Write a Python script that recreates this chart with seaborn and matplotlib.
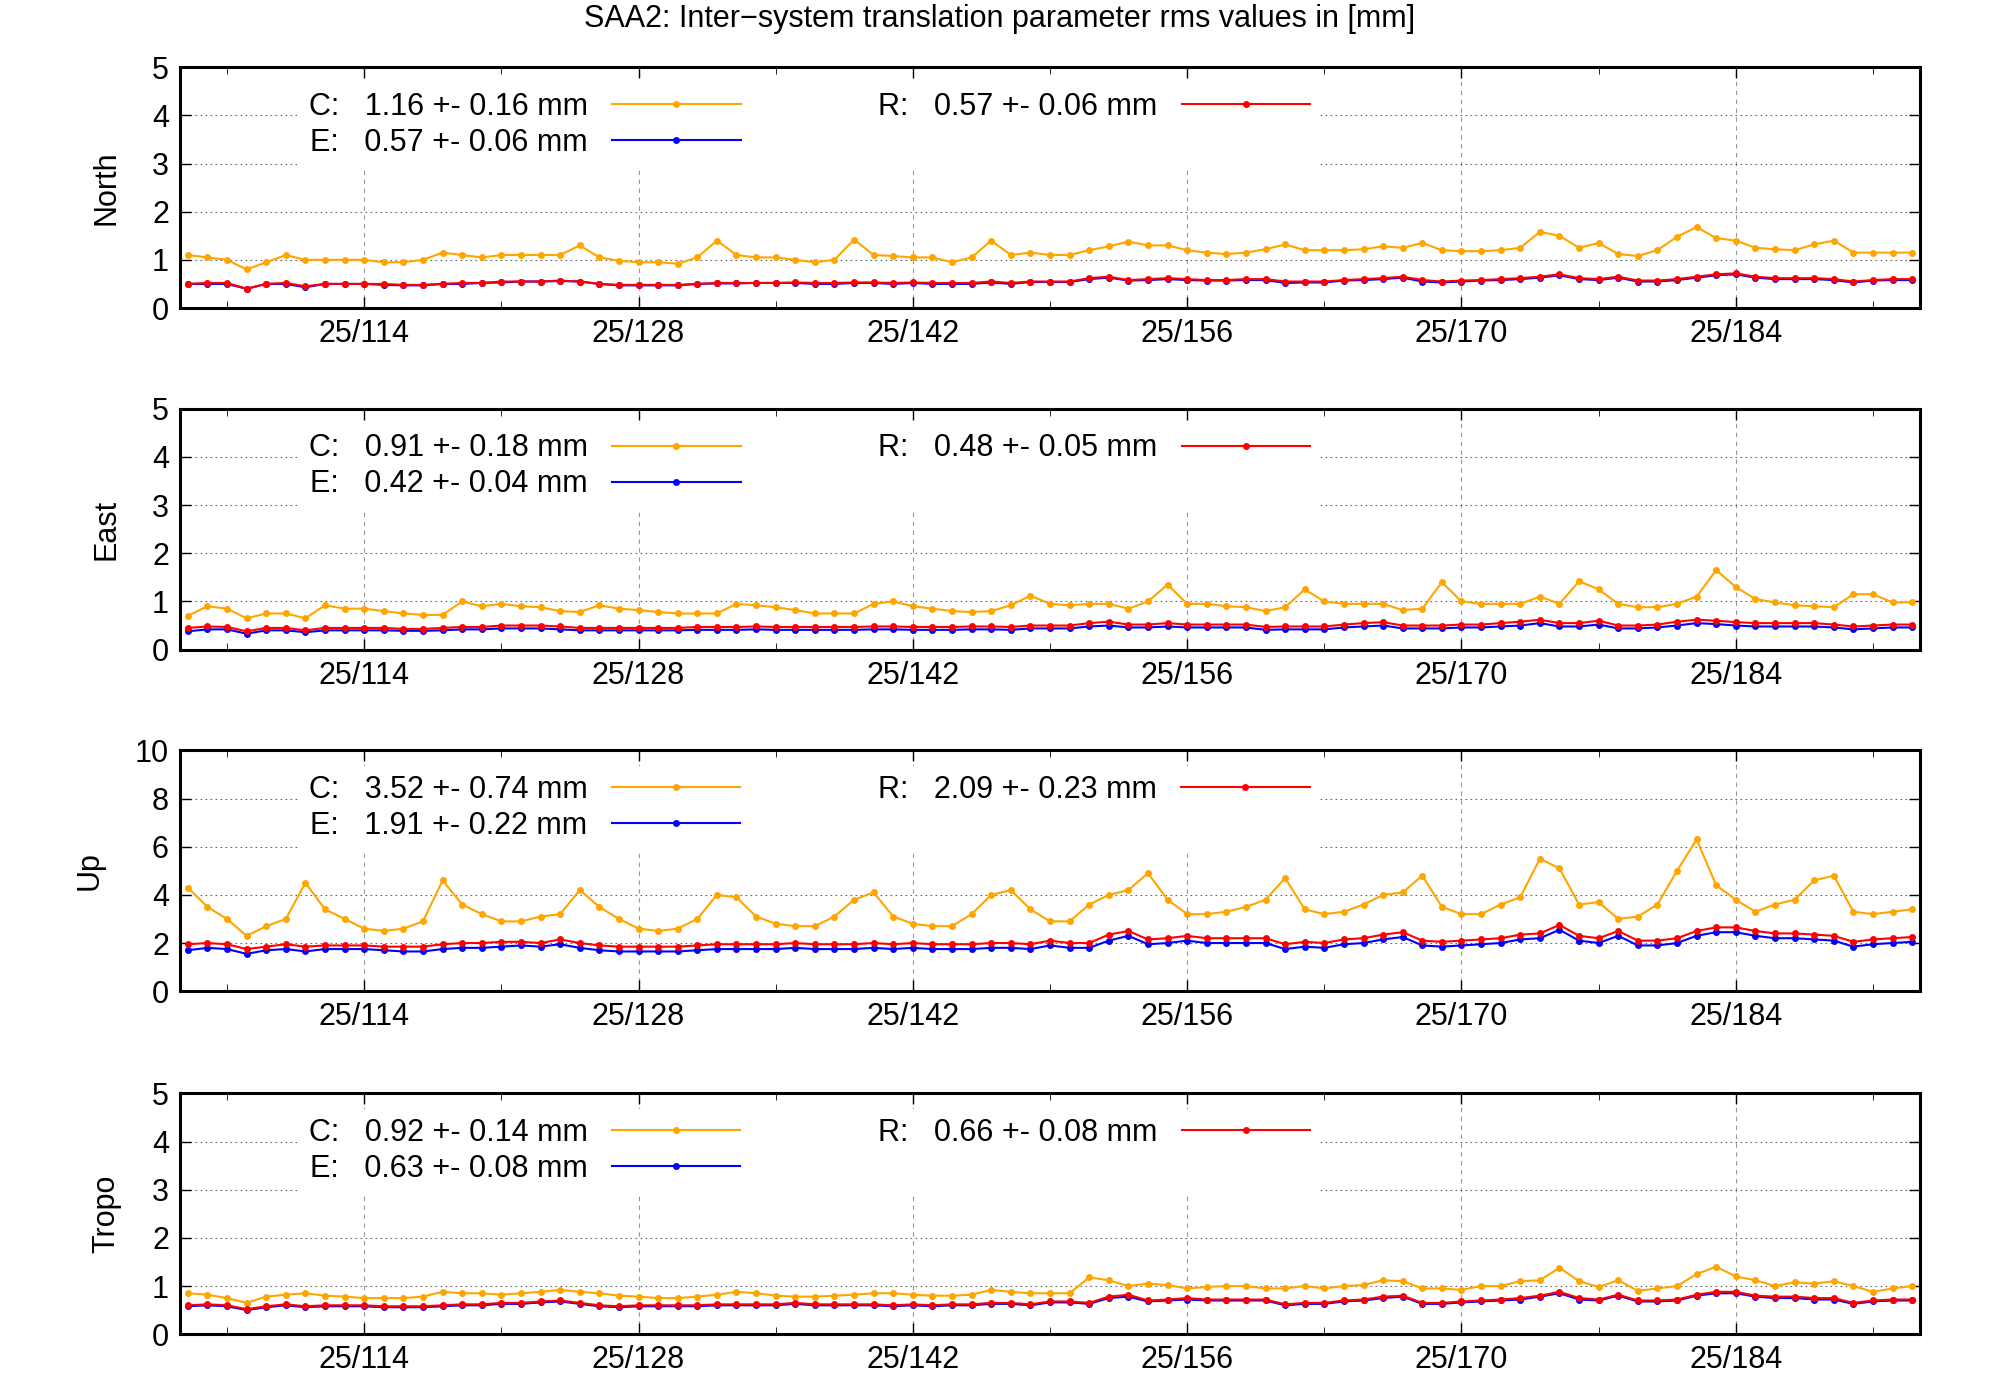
import numpy as np
import pandas as pd
import matplotlib
matplotlib.use("Agg")
import matplotlib.pyplot as plt
import seaborn as sns
from matplotlib.ticker import MultipleLocator

plt.rcParams["font.family"] = "Liberation Sans"

# ---------------------------
# Data
# ---------------------------
north_c = [1.1, 1.05, 1.0, 0.8, 0.95, 1.1, 1.0, 1.0, 1.0, 1.0, 0.95, 0.95, 1.0, 1.15, 1.1, 1.05, 1.1, 1.1,
           1.1, 1.1, 1.3, 1.05, 0.98, 0.95, 0.95, 0.92, 1.05, 1.4, 1.1, 1.05, 1.05, 1.0, 0.95, 1.0, 1.42,
           1.1, 1.08, 1.05, 1.05, 0.95, 1.05, 1.4, 1.1, 1.15, 1.1, 1.1, 1.2, 1.28, 1.38, 1.3, 1.3, 1.2,
           1.15, 1.12, 1.15, 1.22, 1.32, 1.2, 1.2, 1.2, 1.22, 1.28, 1.25, 1.35, 1.2, 1.18, 1.18, 1.2, 1.25,
           1.58, 1.5, 1.25, 1.35, 1.12, 1.08, 1.2, 1.48, 1.68, 1.45, 1.4, 1.25, 1.22, 1.2, 1.32, 1.4, 1.15,
           1.15, 1.15, 1.15]
north_r = [0.5, 0.52, 0.52, 0.4, 0.5, 0.52, 0.45, 0.5, 0.5, 0.5, 0.5, 0.48, 0.48, 0.5, 0.52, 0.52, 0.55, 0.55,
           0.55, 0.57, 0.55, 0.5, 0.48, 0.48, 0.48, 0.48, 0.5, 0.52, 0.52, 0.52, 0.52, 0.53, 0.52, 0.52, 0.53,
           0.53, 0.52, 0.53, 0.52, 0.52, 0.52, 0.55, 0.52, 0.55, 0.55, 0.55, 0.62, 0.65, 0.58, 0.6, 0.62, 0.6,
           0.58, 0.58, 0.6, 0.6, 0.55, 0.55, 0.55, 0.58, 0.6, 0.62, 0.65, 0.58, 0.55, 0.57, 0.58, 0.6, 0.62,
           0.65, 0.7, 0.62, 0.6, 0.65, 0.57, 0.57, 0.6, 0.65, 0.7, 0.72, 0.65, 0.62, 0.62, 0.62, 0.6, 0.55,
           0.58, 0.6, 0.6]
north_e = [0.5, 0.5, 0.5, 0.4, 0.5, 0.5, 0.43, 0.5, 0.5, 0.5, 0.48, 0.47, 0.47, 0.5, 0.5, 0.52, 0.53, 0.55,
           0.55, 0.56, 0.55, 0.5, 0.47, 0.47, 0.47, 0.47, 0.5, 0.51, 0.51, 0.52, 0.52, 0.52, 0.5, 0.5, 0.52,
           0.52, 0.5, 0.52, 0.5, 0.5, 0.5, 0.53, 0.5, 0.54, 0.54, 0.54, 0.6, 0.63, 0.57, 0.58, 0.6, 0.58,
           0.57, 0.57, 0.58, 0.58, 0.52, 0.53, 0.53, 0.57, 0.58, 0.6, 0.63, 0.55, 0.53, 0.55, 0.57, 0.58, 0.6,
           0.63, 0.68, 0.6, 0.58, 0.63, 0.55, 0.55, 0.58, 0.63, 0.68, 0.7, 0.63, 0.6, 0.6, 0.6, 0.58, 0.53,
           0.57, 0.58, 0.58]

east_c = [0.7, 0.9, 0.85, 0.65, 0.75, 0.75, 0.65, 0.92, 0.85, 0.85, 0.8, 0.75, 0.72, 0.72, 1.0, 0.9, 0.95, 0.9,
          0.88, 0.8, 0.78, 0.92, 0.85, 0.82, 0.78, 0.75, 0.75, 0.75, 0.95, 0.92, 0.88, 0.82, 0.75, 0.75, 0.75,
          0.95, 1.0, 0.9, 0.85, 0.8, 0.78, 0.8, 0.92, 1.12, 0.95, 0.92, 0.95, 0.95, 0.85, 1.0, 1.35, 0.95, 0.95,
          0.9, 0.88, 0.8, 0.88, 1.25, 1.0, 0.95, 0.95, 0.95, 0.82, 0.85, 1.4, 1.0, 0.95, 0.95, 0.95, 1.1, 0.95,
          1.42, 1.25, 0.95, 0.88, 0.88, 0.95, 1.1, 1.65, 1.3, 1.05, 0.98, 0.92, 0.9, 0.88, 1.15, 1.15, 0.98,
          0.98]
east_r = [0.45, 0.48, 0.47, 0.38, 0.45, 0.45, 0.4, 0.45, 0.45, 0.45, 0.45, 0.43, 0.43, 0.45, 0.47, 0.47, 0.5, 0.5,
          0.5, 0.48, 0.45, 0.45, 0.45, 0.45, 0.45, 0.45, 0.47, 0.47, 0.47, 0.48, 0.47, 0.47, 0.47, 0.47, 0.47,
          0.48, 0.48, 0.47, 0.47, 0.47, 0.48, 0.48, 0.47, 0.5, 0.5, 0.5, 0.55, 0.58, 0.52, 0.52, 0.55, 0.52,
          0.52, 0.52, 0.52, 0.47, 0.48, 0.48, 0.48, 0.52, 0.55, 0.57, 0.5, 0.5, 0.5, 0.52, 0.52, 0.55, 0.58,
          0.62, 0.55, 0.55, 0.6, 0.5, 0.5, 0.52, 0.58, 0.62, 0.6, 0.57, 0.55, 0.55, 0.55, 0.55, 0.52, 0.48,
          0.5, 0.52, 0.52]
east_e = [0.38, 0.42, 0.42, 0.33, 0.4, 0.4, 0.36, 0.4, 0.4, 0.4, 0.4, 0.39, 0.39, 0.4, 0.42, 0.42, 0.44, 0.44,
          0.44, 0.42, 0.4, 0.4, 0.4, 0.4, 0.4, 0.4, 0.41, 0.41, 0.41, 0.42, 0.41, 0.41, 0.41, 0.41, 0.41, 0.42,
          0.42, 0.41, 0.41, 0.41, 0.42, 0.42, 0.41, 0.44, 0.44, 0.44, 0.48, 0.5, 0.46, 0.46, 0.48, 0.46, 0.46,
          0.46, 0.46, 0.41, 0.42, 0.42, 0.42, 0.46, 0.48, 0.5, 0.44, 0.44, 0.44, 0.46, 0.46, 0.48, 0.5, 0.55,
          0.48, 0.48, 0.52, 0.44, 0.44, 0.46, 0.5, 0.55, 0.53, 0.5, 0.48, 0.48, 0.48, 0.48, 0.46, 0.42, 0.44,
          0.46, 0.46]

up_c = [4.3, 3.5, 3.0, 2.3, 2.7, 3.0, 4.5, 3.4, 3.0, 2.6, 2.5, 2.6, 2.9, 4.6, 3.6, 3.2, 2.9, 2.9, 3.1, 3.2,
        4.2, 3.5, 3.0, 2.6, 2.5, 2.6, 3.0, 4.0, 3.9, 3.1, 2.8, 2.7, 2.7, 3.1, 3.8, 4.1, 3.1, 2.8, 2.7, 2.7,
        3.2, 4.0, 4.2, 3.4, 2.9, 2.9, 3.6, 4.0, 4.2, 4.9, 3.8, 3.2, 3.2, 3.3, 3.5, 3.8, 4.7, 3.4, 3.2, 3.3,
        3.6, 4.0, 4.1, 4.8, 3.5, 3.2, 3.2, 3.6, 3.9, 5.5, 5.1, 3.6, 3.7, 3.0, 3.1, 3.6, 5.0, 6.3, 4.4, 3.8,
        3.3, 3.6, 3.8, 4.6, 4.8, 3.3, 3.2, 3.3, 3.4]
up_r = [1.95, 2.0, 1.95, 1.75, 1.85, 1.95, 1.85, 1.9, 1.9, 1.9, 1.85, 1.85, 1.85, 1.95, 2.0, 2.0, 2.05, 2.05,
        2.0, 2.15, 2.0, 1.9, 1.85, 1.85, 1.85, 1.85, 1.9, 1.95, 1.95, 1.95, 1.95, 2.0, 1.95, 1.95, 1.95, 2.0,
        1.95, 2.0, 1.95, 1.95, 1.95, 2.0, 2.0, 1.95, 2.1, 2.0, 2.0, 2.35, 2.5, 2.15, 2.2, 2.3, 2.2, 2.2, 2.2,
        2.2, 1.95, 2.05, 2.0, 2.15, 2.2, 2.35, 2.45, 2.1, 2.05, 2.1, 2.15, 2.2, 2.35, 2.4, 2.75, 2.3, 2.2,
        2.5, 2.1, 2.1, 2.2, 2.5, 2.65, 2.65, 2.5, 2.4, 2.4, 2.35, 2.3, 2.05, 2.15, 2.2, 2.25]
up_e = [1.7, 1.8, 1.75, 1.55, 1.7, 1.75, 1.65, 1.75, 1.75, 1.75, 1.7, 1.65, 1.65, 1.75, 1.8, 1.8, 1.85, 1.9,
        1.85, 1.95, 1.8, 1.7, 1.65, 1.65, 1.65, 1.65, 1.7, 1.75, 1.75, 1.75, 1.75, 1.8, 1.75, 1.75, 1.75, 1.8,
        1.75, 1.8, 1.75, 1.75, 1.75, 1.8, 1.8, 1.75, 1.9, 1.8, 1.8, 2.1, 2.3, 1.95, 2.0, 2.1, 2.0, 2.0, 2.0,
        2.0, 1.75, 1.85, 1.8, 1.95, 2.0, 2.15, 2.25, 1.9, 1.85, 1.9, 1.95, 2.0, 2.15, 2.2, 2.55, 2.1, 2.0,
        2.3, 1.9, 1.9, 2.0, 2.3, 2.45, 2.45, 2.3, 2.2, 2.2, 2.15, 2.1, 1.85, 1.95, 2.0, 2.05]

tropo_c = [0.85, 0.82, 0.75, 0.65, 0.78, 0.82, 0.85, 0.8, 0.78, 0.75, 0.75, 0.75, 0.78, 0.88, 0.85, 0.85, 0.82, 0.85,
           0.88, 0.92, 0.88, 0.85, 0.8, 0.78, 0.75, 0.75, 0.78, 0.82, 0.88, 0.85, 0.8, 0.78, 0.78, 0.8, 0.82,
           0.85, 0.85, 0.82, 0.8, 0.8, 0.82, 0.92, 0.88, 0.85, 0.85, 0.85, 1.18, 1.12, 1.0, 1.05, 1.02, 0.95,
           0.98, 1.0, 1.0, 0.95, 0.95, 1.0, 0.95, 1.0, 1.02, 1.12, 1.1, 0.95, 0.95, 0.92, 1.0, 1.0, 1.1, 1.12,
           1.38, 1.1, 0.98, 1.12, 0.9, 0.95, 1.0, 1.25, 1.4, 1.2, 1.12, 1.0, 1.08, 1.05, 1.1, 1.0, 0.88, 0.95,
           1.0]
tropo_r = [0.6, 0.62, 0.6, 0.52, 0.58, 0.62, 0.58, 0.6, 0.6, 0.6, 0.58, 0.58, 0.58, 0.6, 0.62, 0.62, 0.65, 0.65,
           0.68, 0.7, 0.65, 0.6, 0.58, 0.6, 0.6, 0.6, 0.6, 0.62, 0.62, 0.62, 0.62, 0.65, 0.62, 0.62, 0.62, 0.62,
           0.6, 0.62, 0.6, 0.62, 0.62, 0.65, 0.65, 0.62, 0.68, 0.68, 0.65, 0.78, 0.82, 0.7, 0.72, 0.75, 0.72,
           0.72, 0.72, 0.72, 0.62, 0.65, 0.65, 0.7, 0.72, 0.78, 0.8, 0.65, 0.65, 0.68, 0.7, 0.72, 0.75, 0.8,
           0.88, 0.75, 0.72, 0.82, 0.7, 0.7, 0.72, 0.82, 0.88, 0.88, 0.8, 0.78, 0.78, 0.75, 0.75, 0.65, 0.7,
           0.72, 0.72]
tropo_e = [0.58, 0.6, 0.58, 0.5, 0.56, 0.6, 0.56, 0.58, 0.58, 0.58, 0.56, 0.56, 0.56, 0.58, 0.6, 0.6, 0.63, 0.63,
           0.66, 0.68, 0.63, 0.58, 0.56, 0.58, 0.58, 0.58, 0.58, 0.6, 0.6, 0.6, 0.6, 0.63, 0.6, 0.6, 0.6, 0.6,
           0.58, 0.6, 0.58, 0.6, 0.6, 0.63, 0.63, 0.6, 0.66, 0.66, 0.63, 0.75, 0.78, 0.68, 0.7, 0.72, 0.7, 0.7,
           0.7, 0.7, 0.6, 0.63, 0.63, 0.68, 0.7, 0.75, 0.78, 0.63, 0.63, 0.66, 0.68, 0.7, 0.72, 0.78, 0.85,
           0.72, 0.7, 0.8, 0.68, 0.68, 0.7, 0.8, 0.85, 0.85, 0.78, 0.75, 0.75, 0.72, 0.72, 0.63, 0.68, 0.7, 0.7]

panel_names = ["North", "East", "Up", "Tropo"]
panel_ymax = [5, 5, 10, 5]
panel_ystep = [1, 1, 2, 1]
legend_c = ["1.16 +- 0.16 mm", "0.91 +- 0.18 mm", "3.52 +- 0.74 mm", "0.92 +- 0.14 mm"]
legend_e = ["0.57 +- 0.06 mm", "0.42 +- 0.04 mm", "1.91 +- 0.22 mm", "0.63 +- 0.08 mm"]
legend_r = ["0.57 +- 0.06 mm", "0.48 +- 0.05 mm", "2.09 +- 0.23 mm", "0.66 +- 0.08 mm"]
series_c = [north_c, east_c, up_c, tropo_c]
series_e = [north_e, east_e, up_e, tropo_e]
series_r = [north_r, east_r, up_r, tropo_r]

major_days = [114, 128, 142, 156, 170, 184]
x_min, x_max = 104.6, 193.4

# ---------------------------
# Plot
# ---------------------------
fig = plt.figure(figsize=(20, 14), dpi=100)
bottoms = [0.780, 0.536, 0.292, 0.047]
height = 0.172

for i, name in enumerate(panel_names):
    ax = fig.add_axes([0.090, bottoms[i], 0.870, height])
    n = len(series_c[i])
    days = np.arange(105, 105 + n)
    df = pd.DataFrame({"day": days, "C": series_c[i], "E": series_e[i][:n], "R": series_r[i][:n]})

    sns.lineplot(data=df, x="day", y="C", ax=ax, color="#ffa500", marker="o", markersize=5,
                 markeredgewidth=0, lw=1.5, label=f"C:   {legend_c[i]}")
    sns.lineplot(data=df, x="day", y="E", ax=ax, color="#0000ff", marker="o", markersize=5,
                 markeredgewidth=0, lw=1.5, label=f"E:   {legend_e[i]}")
    sns.lineplot(data=df, x="day", y="R", ax=ax, color="#ff0000", marker="o", markersize=5,
                 markeredgewidth=0, lw=1.5, label=f"R:   {legend_r[i]}")

    ax.set_xlim(x_min, x_max)
    ax.set_ylim(0, panel_ymax[i])
    ax.yaxis.set_major_locator(MultipleLocator(panel_ystep[i]))
    ax.set_xticks(major_days)
    ax.set_xticklabels([f"25/{d}" for d in major_days])
    ax.set_xticks([107, 121, 135, 149, 163, 177, 191], minor=True)
    ax.tick_params(axis="both", which="major", labelsize=22, direction="in", length=8, width=1,
                   top=True, right=True, pad=8)
    ax.tick_params(axis="x", which="minor", direction="in", length=5, top=True)
    ax.grid(axis="x", which="major", color="#999999", linestyle=(0, (4, 4)), lw=0.8)
    ax.grid(axis="y", which="major", color="#666666", linestyle=(0, (1.5, 3)), lw=0.8)
    for s in ax.spines.values():
        s.set_linewidth(2.2)
    ax.set_xlabel("")
    ax.set_ylabel(name, fontsize=22, labelpad=22)

    leg = ax.legend(loc="upper left", bbox_to_anchor=(0.06, 1.0), ncol=2, markerfirst=False,
                    frameon=True, fontsize=22, handlelength=4.2, columnspacing=4.5,
                    labelspacing=0.2, borderpad=0.3, handletextpad=0.8)
    leg.get_frame().set_facecolor("white")
    leg.get_frame().set_edgecolor("none")
    leg.get_frame().set_alpha(1)
    leg.get_frame().set_boxstyle("square", pad=0)

fig.suptitle("SAA2: Inter\u2212system translation parameter rms values in [mm]", fontsize=22, y=0.997)
fig.savefig("out.png", dpi=100)
